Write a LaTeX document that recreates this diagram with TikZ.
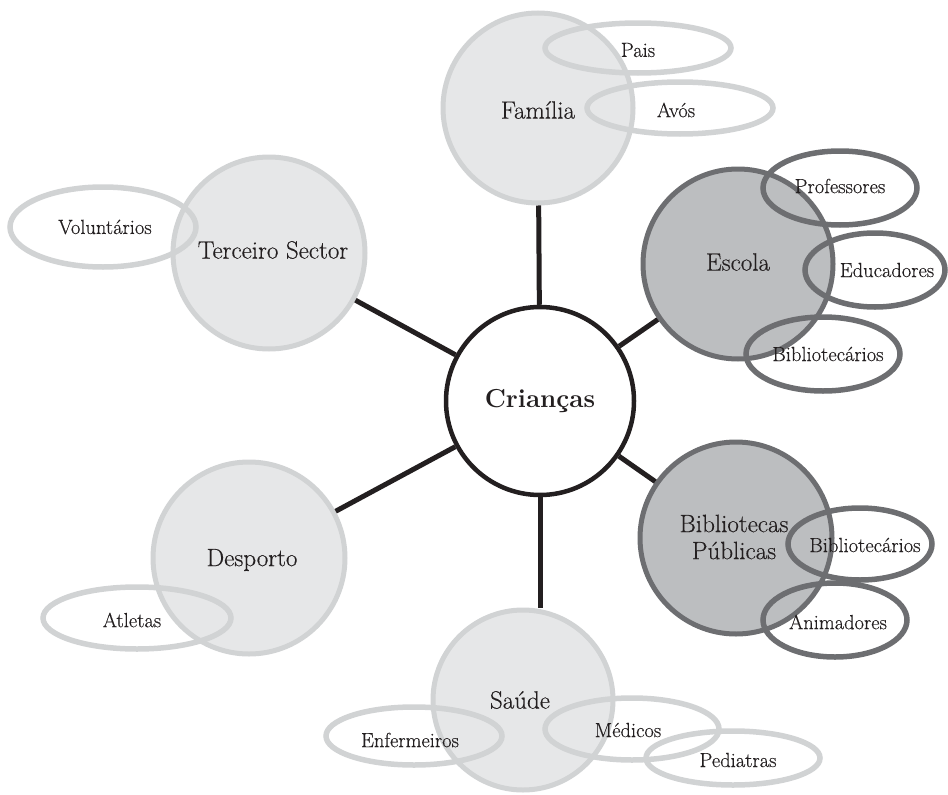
\documentclass[tikz,border=0pt]{standalone}
\usepackage{fontspec}
\newfontfamily\labfont[FakeBold=0.4]{Latin Modern Roman}
\usetikzlibrary{shapes.geometric}
\definecolor{lfill}{HTML}{E6E7E8}
\definecolor{ldraw}{HTML}{D1D3D4}
\definecolor{dfill}{HTML}{BCBEC0}
\definecolor{ddraw}{HTML}{6D6E71}
\definecolor{ink}{HTML}{231F20}
\tikzset{
  hub/.style={circle, draw=ink, fill=white, line width=4.5pt, inner sep=0pt, minimum size=188pt},
  lcirc/.style={circle, draw=ldraw, fill=lfill, line width=5pt, inner sep=0pt},
  dcirc/.style={circle, draw=ddraw, fill=dfill, line width=5pt, inner sep=0pt},
  lell/.style={ellipse, draw=ldraw, line width=5.5pt, inner sep=0pt},
  dell/.style={ellipse, draw=ddraw, line width=5.5pt, inner sep=0pt},
  big/.style={text=ink, font=\labfont\fontsize{25}{27}\selectfont, align=center, inner sep=0pt},
  small/.style={text=ink, font=\labfont\fontsize{20.5}{22}\selectfont, inner sep=0pt},
  link/.style={draw=ink, line width=5pt}
}
\begin{document}
\begin{tikzpicture}[x=1pt,y=-1pt]
\useasboundingbox (0,0) rectangle (948,795);
% central and group circles
\node[hub] (cri) at (540,401) {};
\node[lcirc, minimum size=190pt] (fam) at (538,108) {};
\node[dcirc, minimum size=190pt] (esc) at (738,264) {};
\node[dcirc, minimum size=192pt] (bib) at (736,538) {};
\node[lcirc, minimum size=180pt] (sau) at (523,700) {};
\node[lcirc, minimum size=192pt] (ter) at (269,253) {};
\node[lcirc, minimum size=192pt] (des) at (249,558) {};
% connectors
\draw[link] (cri) -- (fam);
\draw[link] (cri) -- (esc);
\draw[link] (cri) -- (bib);
\draw[link] (cri.south) -- (cri.south |- sau.north);
\draw[link] (cri) -- (ter);
\draw[link] (cri) -- (des);
% ellipses
\node[lell, minimum width=186pt, minimum height=50pt] (pais) at (638,48) {};
\node[lell, minimum width=186pt, minimum height=52pt] (avos) at (680,108) {};
\node[dell, minimum width=154pt, minimum height=74pt] (prof) at (840,188) {};
\node[dell, minimum width=140pt, minimum height=74pt] (educ) at (875,270) {};
\node[dell, minimum width=154pt, minimum height=74pt] (bibe) at (823,354) {};
\node[dell, minimum width=144pt, minimum height=72pt] (bibp) at (860,544) {};
\node[dell, minimum width=144pt, minimum height=74pt] (anim) at (835,620) {};
\node[lell, minimum width=176pt, minimum height=58pt] (enf) at (414,736) {};
\node[lell, minimum width=174pt, minimum height=62pt] (med) at (632,729) {};
\node[lell, minimum width=174pt, minimum height=54pt] (ped) at (733,758) {};
\node[lell, minimum width=186pt, minimum height=80pt] (vol) at (103,227) {};
\node[lell, minimum width=188pt, minimum height=62pt] (atl) at (137,618) {};
% texts
\node[text=ink, font=\fontsize{26}{28}\selectfont\bfseries, inner sep=0pt] (tcri) at (540,401) {Crianças};
\node[big] (tfam) at (538,110) {Família};
\node[big] (tesc) at (738,262) {Escola};
\node[big] (tbib) at (734,537) {Bibliotecas\\Públicas};
\node[big] (tsau) at (520,700) {Saúde};
\node[big] (tter) at (273,250) {Terceiro Sector};
\node[big] (tdes) at (252,560) {Desporto};
\node[small] (tpais) at (638,50) {Pais};
\node[small] (tavos) at (676,110) {Avós};
\node[small] (tprof) at (840,186) {Professores};
\node[small] (teduc) at (887,270) {Educadores};
\node[small] (tbibe) at (828,354) {Bibliotecários};
\node[small] (tbibp) at (865,545) {Bibliotecários};
\node[small] (tanim) at (838,622) {Animadores};
\node[small] (tenf) at (410,740) {Enfermeiros};
\node[small] (tmed) at (628,730) {Médicos};
\node[small] (tped) at (738,760) {Pediatras};
\node[small] (tvol) at (105,227) {Voluntários};
\node[small] (tatl) at (132,620) {Atletas};
\end{tikzpicture}
\end{document}
